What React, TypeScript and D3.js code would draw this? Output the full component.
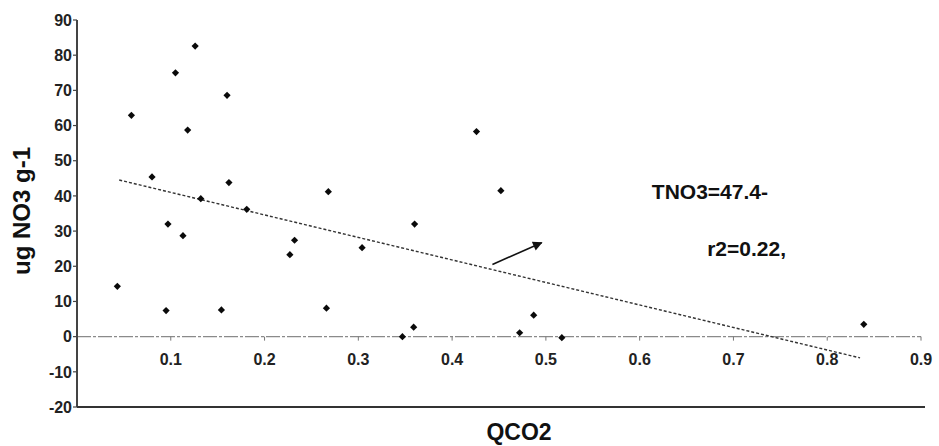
import { useEffect, useRef } from 'react'
import * as d3 from 'd3'

// QCO2 (x) vs ug NO3 g-1 (y)
const qco2 = [
  0.126, 0.105, 0.16, 0.058, 0.118, 0.08, 0.162, 0.132, 0.181, 0.097,
  0.113, 0.232, 0.227, 0.043, 0.095, 0.154, 0.426, 0.268, 0.452, 0.36,
  0.304, 0.266, 0.359, 0.347, 0.472, 0.487, 0.517, 0.839,
]
const no3 = [
  82.6, 75.0, 68.6, 62.9, 58.7, 45.4, 43.8, 39.2, 36.2, 32.0,
  28.7, 27.4, 23.3, 14.3, 7.4, 7.6, 58.3, 41.2, 41.5, 32.0,
  25.3, 8.1, 2.7, 0.0, 1.1, 6.1, -0.3, 3.5,
]

const xTicks = [0.1, 0.2, 0.3, 0.4, 0.5, 0.6, 0.7, 0.8, 0.9]
const yTicks = [-20, -10, 0, 10, 20, 30, 40, 50, 60, 70, 80, 90]

// fitted line TNO3 = 47.4 - 64 * QCO2
const fitIntercept = 47.4
const fitSlope = -64
const fitRange = [0.045, 0.835]

const annotations = [
  { text: 'TNO3=47.4-', x: 0.613, y: 39.1 },
  { text: 'r2=0.22,', x: 0.672, y: 22.9 },
]
const arrowFrom = [0.443, 20.5]
const arrowTo = [0.4955, 26.7]

const W = 939
const H = 446
const font = '"Liberation Sans", Arial, sans-serif'

export default function App() {
  const svgRef = useRef<SVGSVGElement>(null)

  useEffect(() => {
    if (!svgRef.current) return
    const svg = d3.select(svgRef.current)
    svg.selectAll('*').remove()

    const x = d3.scaleLinear().domain([0, 0.9]).range([77, 921])
    const y = d3.scaleLinear().domain([-20, 90]).range([407, 20])

    svg.append('rect').attr('width', W).attr('height', H).attr('fill', '#fff')

    const defs = svg.append('defs')
    defs
      .append('marker')
      .attr('id', 'arrowhead')
      .attr('viewBox', '0 0 10 10')
      .attr('refX', 9)
      .attr('refY', 5)
      .attr('markerWidth', 7)
      .attr('markerHeight', 6)
      .attr('markerUnits', 'strokeWidth')
      .attr('orient', 'auto')
      .append('path')
      .attr('d', 'M0,0 L10,5 L0,10 z')
      .attr('fill', '#111')

    // zero line with ticks
    svg
      .append('line')
      .attr('x1', x(0))
      .attr('x2', x(0.9))
      .attr('y1', y(0))
      .attr('y2', y(0))
      .attr('stroke', '#8a8a8a')
      .attr('stroke-width', 1.3)
      .attr('stroke-dasharray', '14,2,3,2')

    svg
      .selectAll('.xtick')
      .data(xTicks)
      .enter()
      .append('line')
      .attr('x1', (d) => x(d))
      .attr('x2', (d) => x(d))
      .attr('y1', y(0))
      .attr('y2', y(0) + 4)
      .attr('stroke', '#777')
      .attr('stroke-width', 1)

    svg
      .selectAll('.xlabel')
      .data(xTicks)
      .enter()
      .append('text')
      .attr('x', (d) => x(d))
      .attr('y', y(0) + 28)
      .attr('text-anchor', 'middle')
      .style('font-family', font)
      .style('font-size', '16px')
      .style('font-weight', 'bold')
      .attr('fill', '#222')
      .text((d) => d3.format('.1f')(d))

    // y axis
    svg
      .append('line')
      .attr('x1', x(0))
      .attr('x2', x(0))
      .attr('y1', y(90))
      .attr('y2', y(-20))
      .attr('stroke', '#444')
      .attr('stroke-width', 2)

    svg
      .selectAll('.ytick')
      .data(yTicks)
      .enter()
      .append('line')
      .attr('x1', x(0) - 4)
      .attr('x2', x(0))
      .attr('y1', (d) => y(d))
      .attr('y2', (d) => y(d))
      .attr('stroke', '#444')
      .attr('stroke-width', 1.2)

    svg
      .selectAll('.ylabel')
      .data(yTicks)
      .enter()
      .append('text')
      .attr('x', x(0) - 5)
      .attr('y', (d) => y(d))
      .attr('dy', '0.36em')
      .attr('text-anchor', 'end')
      .style('font-family', font)
      .style('font-size', '16px')
      .style('font-weight', 'bold')
      .attr('fill', '#222')
      .text((d) => d)

    // bottom frame line
    svg
      .append('line')
      .attr('x1', x(0))
      .attr('x2', x(0.9) + 4)
      .attr('y1', y(-20))
      .attr('y2', y(-20))
      .attr('stroke', '#333')
      .attr('stroke-width', 2)

    // regression line
    svg
      .append('line')
      .attr('x1', x(fitRange[0]))
      .attr('y1', y(fitIntercept + fitSlope * fitRange[0]))
      .attr('x2', x(fitRange[1]))
      .attr('y2', y(fitIntercept + fitSlope * fitRange[1]))
      .attr('stroke', '#333')
      .attr('stroke-width', 1.4)
      .attr('stroke-dasharray', '3,2')

    // points: small squares turned 45 degrees
    const sym = d3.symbol().type(d3.symbolSquare).size(26)
    svg
      .selectAll('.pt')
      .data(d3.range(qco2.length))
      .enter()
      .append('path')
      .attr('d', sym)
      .attr('transform', (i) => `translate(${x(qco2[i])},${y(no3[i])}) rotate(45)`)
      .attr('fill', '#0a0a0a')

    // arrow
    svg
      .append('line')
      .attr('x1', x(arrowFrom[0]))
      .attr('y1', y(arrowFrom[1]))
      .attr('x2', x(arrowTo[0]))
      .attr('y2', y(arrowTo[1]))
      .attr('stroke', '#111')
      .attr('stroke-width', 1.6)
      .attr('marker-end', 'url(#arrowhead)')

    svg
      .selectAll('.annot')
      .data(annotations)
      .enter()
      .append('text')
      .attr('x', (d) => x(d.x))
      .attr('y', (d) => y(d.y))
      .style('font-family', font)
      .style('font-size', '21px')
      .style('font-weight', 'bold')
      .attr('fill', '#111')
      .text((d) => d.text)

    // axis titles
    svg
      .append('text')
      .attr('x', 519)
      .attr('y', 440)
      .attr('text-anchor', 'middle')
      .style('font-family', font)
      .style('font-size', '23px')
      .style('font-weight', 'bold')
      .attr('fill', '#111')
      .text('QCO2')

    svg
      .append('text')
      .attr('transform', 'translate(30,211) rotate(-90)')
      .attr('text-anchor', 'middle')
      .style('font-family', font)
      .style('font-size', '24px')
      .style('font-weight', 'bold')
      .attr('fill', '#111')
      .text('ug NO3 g-1')
  }, [])

  return (
    <svg
      ref={svgRef}
      width={W}
      height={H}
      style={{ position: 'absolute', left: 0, top: 0, display: 'block' }}
    />
  )
}
